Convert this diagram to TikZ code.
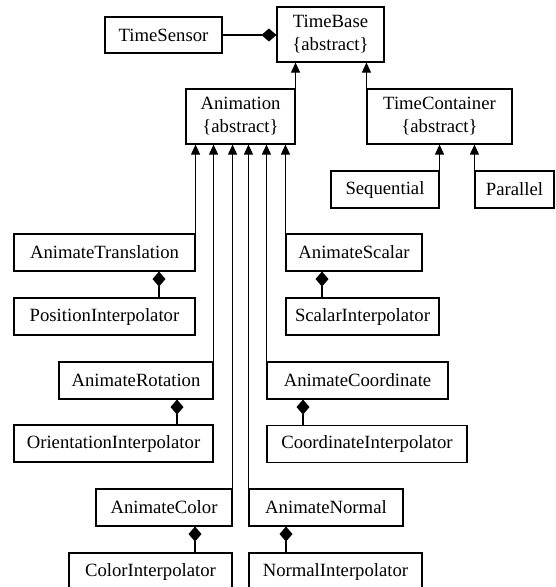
\documentclass[tikz,border=0pt]{standalone}
\usepackage{fontspec}
\setmainfont{Liberation Serif}
\usetikzlibrary{arrows.meta}
\tikzset{
	cls_box/.style = {
		rectangle,
		draw=black,
		align=center,
		inner sep=0pt,
		line width=1.1pt,
		minimum height=37pt,
		font=\fontsize{18.7}{23}\selectfont
	},
	cls_abstract/.style = {
		cls_box,
		minimum height=55pt
	},
	inherit/.style = {
		-{Triangle[length=10pt,width=9pt]},
		line width=1.1pt
	},
	compose/.style = {
		-{Diamond[length=15pt,width=13pt]},
		line width=1.1pt
	},
}

\begin{document}
\begin{tikzpicture}[x=1pt,y=-1pt]
\useasboundingbox (0,0) rectangle (555,587);
% time base and its direct subclasses
\node [cls_abstract, minimum width=107pt] (tbase) at (330.5,34.5) {TimeBase\\\{abstract\}};
\node [cls_box, minimum width=117pt, minimum height=36pt] (tsensor) at (163.5,35) {TimeSensor};
\node [cls_abstract, minimum width=109pt] (anim) at (240.5,116.5) {Animation\\\{abstract\}};
\node [cls_abstract, minimum width=145pt] (tcont) at (439.5,116.5) {TimeContainer\\\{abstract\}};
\node [cls_box, minimum width=108pt] (seq) at (385,189.5) {Sequential};
\node [cls_box, minimum width=79pt] (par) at (514.5,189.5) {Parallel};
% animations
\node [cls_box, minimum width=181pt] (animTrans) at (104.5,252.5) {AnimateTranslation};
\node [cls_box, minimum width=181pt] (posInterp) at (104.5,316.5) {PositionInterpolator};
\node [cls_box, minimum width=136pt] (animScalar) at (354,252.5) {AnimateScalar};
\node [cls_box, minimum width=153pt] (scalarInterp) at (362.5,316.5) {ScalarInterpolator};
\node [cls_box, minimum width=154pt] (animRot) at (136,380.5) {AnimateRotation};
\node [cls_box, minimum width=199pt] (orientInterp) at (113.5,443.5) {OrientationInterpolator};
\node [cls_box, minimum width=181pt] (animCoord) at (357.5,380.5) {AnimateCoordinate};
\node [cls_box, minimum width=200pt] (coordInterp) at (367,444) {CoordinateInterpolator};
\node [cls_box, minimum width=136pt] (animColor) at (164,507.5) {AnimateColor};
\node [cls_box, minimum width=163pt] (colorInterp) at (150.5,571.5) {ColorInterpolator};
\node [cls_box, minimum width=154pt] (animNormal) at (326,507.5) {AnimateNormal};
\node [cls_box, minimum width=173pt] (normalInterp) at (335.5,571.5) {NormalInterpolator};

% generalisation
\draw [inherit] (anim.north east) -- (anim.north east |- tbase.south);
\draw [inherit] (tcont.north west) -- (tcont.north west |- tbase.south);
\draw [inherit] (seq.north east) -- (seq.north east |- tcont.south);
\draw [inherit] (par.north west) -- (par.north west |- tcont.south);
\foreach \sub in {animTrans.north east, animRot.north east, animColor.north east,
	animNormal.north west, animCoord.north west, animScalar.north west}
	\draw [inherit] (\sub) -- (\sub |- anim.south);

% composition
\draw [compose] (tsensor.east) -- (tsensor.east -| tbase.west);
\foreach \part/\whole/\dx in {posInterp/animTrans/54.5, scalarInterp/animScalar/-40.5,
	orientInterp/animRot/63.5, coordInterp/animCoord/-64,
	colorInterp/animColor/44.5, normalInterp/animNormal/-49.5}
	\draw [compose] ([xshift=\dx pt]\part.north) -- ([xshift=\dx pt]\part.north |- \whole.south);
\end{tikzpicture}
\end{document}
